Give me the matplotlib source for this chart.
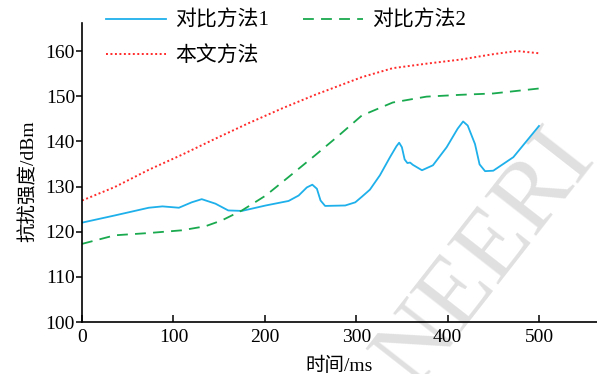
import matplotlib
matplotlib.use("Agg")
import matplotlib.pyplot as plt

# Time axis (ms) and anti-jamming strength (dBm) for each method
x_m1 = [0, 36, 73, 88, 106, 120, 131, 146, 160, 175, 201, 226, 237, 246,
        252, 257, 261, 266, 288, 299, 306, 315, 326, 337, 344, 347, 350,
        353, 356, 359, 362, 372, 384, 399, 411, 417, 422, 430, 435, 441,
        450, 472, 500]
y_m1 = [122.0, 123.6, 125.3, 125.6, 125.3, 126.5, 127.2, 126.2, 124.7,
        124.6, 125.8, 126.8, 128.0, 129.8, 130.4, 129.5, 126.9, 125.7,
        125.8, 126.5, 127.7, 129.3, 132.5, 136.5, 138.9, 139.7, 138.7,
        136.0, 135.2, 135.3, 134.8, 133.6, 134.7, 138.7, 142.8, 144.4,
        143.5, 139.4, 134.9, 133.4, 133.5, 136.5, 143.4]

x_m2 = [0, 36, 73, 109, 135, 153, 175, 201, 226, 255, 281, 306, 340, 377,
        414, 450, 500]
y_m2 = [117.3, 119.2, 119.7, 120.3, 121.2, 122.5, 124.7, 128.0, 132.1,
        136.9, 141.3, 145.7, 148.6, 149.9, 150.3, 150.6, 151.7]

x_ours = [0, 36, 73, 109, 146, 182, 219, 255, 306, 340, 377, 414, 450,
          476, 500]
y_ours = [126.9, 129.9, 133.7, 137.0, 140.6, 144.0, 147.3, 150.3, 154.2,
          156.2, 157.2, 158.1, 159.3, 160.0, 159.5]

labels = ["对比方法1", "本文方法", "对比方法2"]
xticks = [0, 100, 200, 300, 400, 500]
yticks = [100, 110, 120, 130, 140, 150, 160]

plt.rcParams["font.family"] = ["Liberation Serif", "Noto Sans CJK SC"]
plt.rcParams["font.size"] = 14

fig = plt.figure(figsize=(5.97, 3.74), dpi=100)
ax = fig.add_axes([0.1374, 0.139, 0.8626, 0.7995])
ax.patch.set_alpha(0)

# faint watermark behind the curves
ax.text(485 / 597, 1 - 258 / 374, "NEERI", transform=fig.transFigure,
        ha="center", va="center", rotation=52, fontsize=72,
        color="#e0e0e0", family="Liberation Serif", zorder=0, clip_on=False)

l1, = ax.plot(x_m1, y_m1, color="#1eb0ea", lw=1.3, label=labels[0])
l3, = ax.plot(x_ours, y_ours, color="#ff2a2a", lw=1.4,
              linestyle=(0, (1, 1.3)), label=labels[1])
l2, = ax.plot(x_m2, y_m2, color="#19a94e", lw=1.3,
              linestyle=(0, (6, 4)), label=labels[2])

ax.set_xlim(0, 563.5)
ax.set_ylim(100, 166.2)
ax.set_xticks(xticks)
ax.set_yticks(yticks)
ax.spines["top"].set_visible(False)
ax.spines["right"].set_visible(False)
ax.spines["left"].set_linewidth(1.2)
ax.spines["bottom"].set_linewidth(1.2)
ax.tick_params(axis="x", direction="in", length=5, width=1.1, pad=5)
ax.tick_params(axis="y", direction="out", length=4.5, width=1.1, pad=0.5)

ax.set_xlabel("时间/ms", labelpad=8)
ax.set_ylabel("抗扰强度/dBm")
ax.yaxis.set_label_coords(-0.086, 0.47)

fig.legend(handles=[l1, l3, l2], ncol=2, loc="upper left",
           bbox_to_anchor=(106 / 597, 1 - 11 / 374), frameon=False,
           borderpad=0, borderaxespad=0, handlelength=2.9,
           handletextpad=0.4, columnspacing=1.65, labelspacing=0.75,
           fontsize=15)

fig.savefig("out.png", dpi=100)
